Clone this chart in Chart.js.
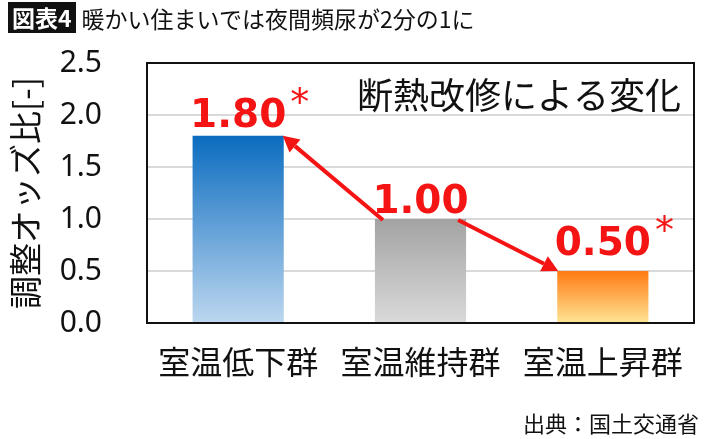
<!DOCTYPE html>
<html lang="ja">
<head>
<meta charset="utf-8">
<script src="https://cdn.jsdelivr.net/npm/chart.js@4.4.1/dist/chart.umd.min.js"></script>
<style>
  html, body { margin: 0; padding: 0; background: #fff; }
  #wrap { position: relative; width: 710px; height: 439px; overflow: hidden; }
  #chart { position: absolute; left: 0; top: 0; }
  .head { position: absolute; top: 2px; left: 8px; height: 31px; display: flex; align-items: center;
          font-family: "Noto Sans CJK JP", sans-serif; font-size: 23px; color: #111; white-space: nowrap; }
  .head .tag { background: #111; color: #fff; font-weight: bold; padding: 0 4px; height: 31px; line-height: 31px; margin-right: 6px; }
  .source { position: absolute; right: 11px; top: 406px; font-family: "Noto Sans CJK JP", sans-serif; font-size: 22px; color: #111; }
</style>
</head>
<body>
<div id="wrap">
  <canvas id="chart" width="710" height="439"></canvas>
  <div class="head"><span class="tag">図表4</span><span>暖かい住まいでは夜間頻尿が2分の1に</span></div>
  <div class="source">出典：国土交通省</div>
</div>
<script>
// --- DADOS ---
const categorias = ['室温低下群', '室温維持群', '室温上昇群'];
const oddsRatio = [1.80, 1.00, 0.50];
const significancia = ['*', '', '*'];
const ticksY = [0, 0.5, 1.0, 1.5, 2.0, 2.5];

// --- ESTILO ---
const corTopo = ['#0b6cc0', '#a3a3a3', '#ff7a12'];
const corBase = ['#bdd7ef', '#dadada', '#ffe596'];
const vermelho = '#f51414';
const subirRotulo = [9, 6, 16];
// setas: do grupo de referência para os outros
const setas = [{ de: 1, para: 0 }, { de: 1, para: 2 }];

function gradienteBarra(c) {
    const i = c.dataIndex;
    const { ctx, chartArea, scales } = c.chart;
    if (!chartArea) return corTopo[i];
    const yTopo = scales.y.getPixelForValue(oddsRatio[i]);
    const yBase = scales.y.getPixelForValue(0);
    const g = ctx.createLinearGradient(0, yTopo, 0, yBase);
    g.addColorStop(0, corTopo[i]);
    g.addColorStop(1, corBase[i]);
    return g;
}

function desenharSeta(ctx, x1, y1, x2, y2) {
    const ang = Math.atan2(y2 - y1, x2 - x1);
    const comp = 16, larg = 8.5;
    const bx = x2 - comp * Math.cos(ang), by = y2 - comp * Math.sin(ang);
    ctx.beginPath();
    ctx.moveTo(x1, y1);
    ctx.lineTo(bx, by);
    ctx.stroke();
    ctx.beginPath();
    ctx.moveTo(x2, y2);
    ctx.lineTo(bx + larg * Math.sin(ang), by - larg * Math.cos(ang));
    ctx.lineTo(bx - larg * Math.sin(ang), by + larg * Math.cos(ang));
    ctx.closePath();
    ctx.fill();
}

// Plugin: moldura, setas, rótulos e texto interno
const extras = {
    id: 'extras',
    afterDatasetsDraw(chart) {
        const { ctx, chartArea } = chart;
        const barras = chart.getDatasetMeta(0).data;
        ctx.save();

        // moldura preta
        ctx.strokeStyle = '#111';
        ctx.lineWidth = 2;
        ctx.strokeRect(chartArea.left, chartArea.top, chartArea.right - chartArea.left, chartArea.bottom - chartArea.top);

        // setas vermelhas
        ctx.strokeStyle = vermelho;
        ctx.fillStyle = vermelho;
        ctx.lineWidth = 4;
        setas.forEach(s => {
            const a = barras[s.de], b = barras[s.para];
            const dir = b.x > a.x ? 1 : -1;
            const x1 = a.x + dir * (a.width / 2 - 8);
            const x2 = b.x - dir * (b.width / 2 - 1);
            desenharSeta(ctx, x1, a.y + 1, x2, b.y);
        });

        // rótulos de valor
        ctx.textAlign = 'center';
        ctx.textBaseline = 'alphabetic';
        barras.forEach((bar, i) => {
            const txt = oddsRatio[i].toFixed(2);
            const yb = bar.y - subirRotulo[i];
            ctx.font = 'bold 39px "DejaVu Sans"';
            ctx.fillStyle = vermelho;
            ctx.fillText(txt, bar.x, yb);
            if (significancia[i]) {
                const w = ctx.measureText(txt).width;
                ctx.font = '38px "DejaVu Sans"';
                ctx.textAlign = 'left';
                ctx.fillText(significancia[i], bar.x + w / 2 + 4, yb - 12);
                ctx.textAlign = 'center';
            }
        });

        // texto interno
        ctx.font = '36px "Noto Sans CJK JP"';
        ctx.fillStyle = '#111';
        ctx.textAlign = 'right';
        ctx.textBaseline = 'middle';
        ctx.fillText('断熱改修による変化', chartArea.right - 13, 95);

        ctx.restore();
    }
};

const ctx = document.getElementById('chart').getContext('2d');
const grafico = new Chart(ctx, {
    type: 'bar',
    data: {
        labels: categorias,
        datasets: [{
            data: oddsRatio,
            backgroundColor: gradienteBarra,
            borderWidth: 0,
            barPercentage: 0.5,
            categoryPercentage: 1.0
        }]
    },
    options: {
        responsive: false,
        animation: false,
        layout: { padding: { top: 63, right: 16, left: 0, bottom: 0 } },
        plugins: {
            legend: { display: false },
            tooltip: { enabled: false }
        },
        scales: {
            x: {
                grid: { display: false, drawTicks: false },
                border: { display: false },
                ticks: {
                    color: '#111',
                    padding: 20,
                    font: { family: '"Noto Sans CJK JP"', size: 32 }
                },
                afterFit(scale) { scale.height = 116; }
            },
            y: {
                min: 0,
                max: 2.5,
                afterBuildTicks(scale) { scale.ticks = ticksY.map(v => ({ value: v })); },
                grid: { color: '#d9d9d9', lineWidth: 2, drawTicks: false },
                border: { display: false },
                ticks: {
                    color: '#111',
                    padding: 45,
                    font: { family: '"Noto Sans"', size: 30 },
                    callback: v => v.toFixed(1)
                },
                title: {
                    display: true,
                    text: '調整オッズ比[-]',
                    color: '#111',
                    padding: { top: 6, bottom: 0 },
                    font: { family: '"Noto Sans CJK JP"', size: 33 }
                },
                afterFit(scale) { scale.width = 147; }
            }
        }
    },
    plugins: [extras]
});
</script>
</body>
</html>
